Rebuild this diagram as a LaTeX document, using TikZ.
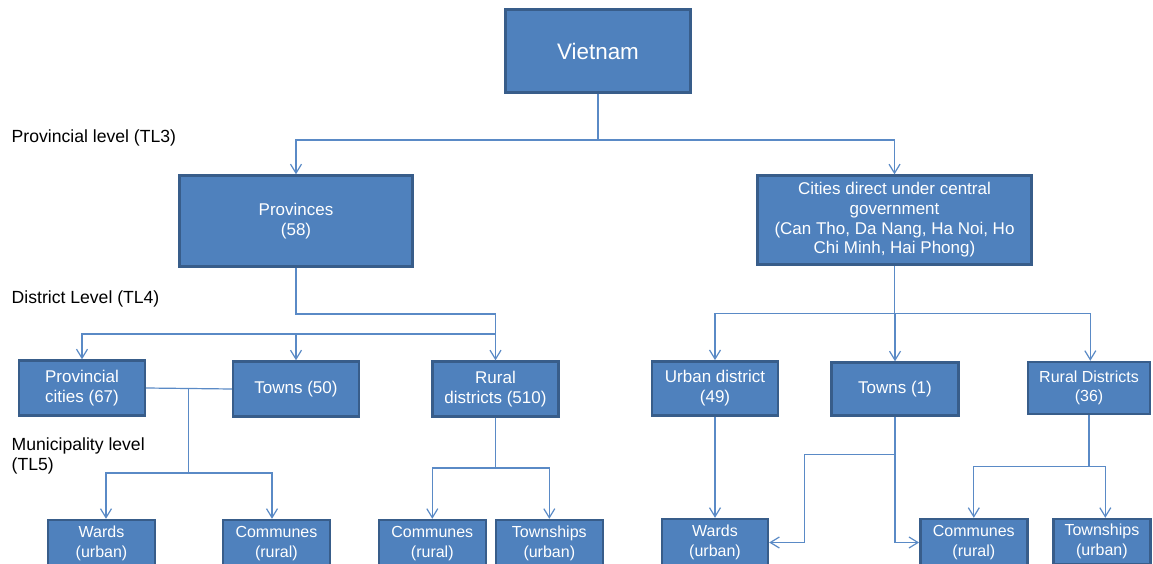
\documentclass[tikz,border=0pt]{standalone}
\usepackage{fontspec}
\setmainfont{Liberation Sans}
\usetikzlibrary{arrows.meta}
\definecolor{boxfill}{HTML}{4F81BD}
\definecolor{boxline}{HTML}{385D8A}
\definecolor{conn}{HTML}{5A8AC6}
\tikzset{
  unit box/.style={draw=boxline, line width=2.4pt, fill=boxfill, text=white,
    inner sep=0pt, align=center, font=\fontsize{17}{20}\selectfont},
  small box/.style={unit box, font=\fontsize{16}{19.4}\selectfont},
  link/.style={draw=conn, line width=1.2pt},
  arrowlink/.style={link, -{Straight Barb[length=9pt,width=11pt,line width=1.2pt]}},
  level label/.style={anchor=west, inner sep=0pt, align=left,
    font=\fontsize{17.6}{20}\selectfont}
}
\begin{document}
\begin{tikzpicture}[x=1pt,y=-1pt]
\useasboundingbox (0,0) rectangle (1153,564);
\clip (0,0) rectangle (1153,564);
\fill[white] (0,0) rectangle (1153,564);

% level labels
\node[level label] (l3) at (11.5,138) {Provincial level (TL3)};
\node[level label] (l4) at (11.5,299) {District Level (TL4)};
\node[level label] (l5) at (11.5,456) {Municipality level\\(TL5)};

% top
\node[unit box, minimum width=185pt, minimum height=83pt,
  font=\fontsize{22.4}{26}\selectfont] (viet) at (598,51) {Vietnam};

% provincial level
\node[unit box, minimum width=233pt, minimum height=91pt] (prov) at (296,221) {Provinces\\(58)};
\node[unit box, minimum width=274pt, minimum height=89pt,
  font=\fontsize{17}{19.7}\selectfont] (cities) at (894.5,220)
  {Cities direct under central\\government\\(Can Tho, Da Nang, Ha Noi, Ho\\Chi Minh, Hai Phong)};

% district level
\node[unit box, minimum width=126pt, minimum height=55pt] (pcity) at (82,388) {Provincial\\cities (67)};
\node[unit box, minimum width=126pt, minimum height=55pt] (towns50) at (296,389) {Towns (50)};
\node[unit box, minimum width=126pt, minimum height=55pt] (rural) at (495.5,389) {Rural\\districts (510)};
\node[unit box, minimum width=126pt, minimum height=54pt] (urban) at (715,388.3) {Urban district\\(49)};
\node[unit box, minimum width=127pt, minimum height=53pt] (towns1) at (895,389) {Towns (1)};
\node[unit box, minimum width=122pt, minimum height=52pt,
  font=\fontsize{16}{19.4}\selectfont] (ruralD) at (1089,388) {Rural Districts\\(36)};

% municipality level
\node[small box, minimum width=107pt, minimum height=47pt] (wards1) at (101.5,543.5) {Wards\\(urban)};
\node[small box, minimum width=107pt, minimum height=47pt] (comm1) at (276.4,543.5) {Communes\\(rural)};
\node[small box, minimum width=107pt, minimum height=47pt] (comm2) at (432.3,543.5) {Communes\\(rural)};
\node[small box, minimum width=107pt, minimum height=47pt] (town1) at (549.3,543.5) {Townships\\(urban)};
\node[small box, minimum width=106pt, minimum height=47pt] (wards2) at (715,542.5) {Wards\\(urban)};
\node[small box, minimum width=107pt, minimum height=47pt] (comm3) at (973.8,542.5) {Communes\\(rural)};
\node[small box, minimum width=97pt, minimum height=45pt] (town2) at (1101.9,541.5) {Townships\\(urban)};

% junctions
\coordinate (j1) at (598,140);
\coordinate (j2) at (296,314);
\coordinate (j3) at (495.6,334);
\coordinate (j4) at (188.7,388.5);
\coordinate (j5) at (188.7,473);
\coordinate (j6) at (495.5,468);
\coordinate (j7) at (894.5,313.5);
\coordinate (j8) at (895,454.3);
\coordinate (j9) at (804.6,454.3);
\coordinate (j10) at (1089,466.7);

% Vietnam -> provincial level
\draw[link] (viet.south) -- (j1);
\draw[arrowlink] (j1) -| (prov.north);
\draw[arrowlink] (j1) -| (cities.north);

% Provinces -> districts
\draw[arrowlink] (prov.south) -- (j2) -| (rural.north);
\draw[arrowlink] (j3) -| (pcity.north);
\draw[arrowlink] (j3 -| towns50) -- (towns50.north);

% provincial cities / towns -> wards, communes
\draw[link] (pcity.east) -- (towns50.west);
\draw[link] (j4) -- (j5);
\draw[arrowlink] (j5) -| ([xshift=4.5pt]wards1.north);
\draw[arrowlink] (j5) -| ([xshift=-4.4pt]comm1.north);

% rural districts -> communes, townships
\draw[link] (rural.south) -- (j6);
\draw[arrowlink] (j6) -| (comm2.north);
\draw[arrowlink] (j6) -| (town1.north);

% cities -> districts
\draw[link] (cities.south) -- (j7);
\draw[arrowlink] (j7) -| (urban.north);
\draw[arrowlink] (j7) -| (towns1.north);
\draw[arrowlink] (j7) -| ([xshift=1.3pt]ruralD.north);

% urban districts -> wards
\draw[arrowlink] (urban.south) -- (wards2.north);

% towns (1) -> communes, wards
\draw[arrowlink] (towns1.south) |- (comm3.west);
\draw[arrowlink] (j8) -- (j9) |- (wards2.east);

% rural districts (36) -> communes, townships
\draw[link] (ruralD.south) -- (j10);
\draw[arrowlink] (j10) -| (comm3.north);
\draw[arrowlink] (j10) -| ([xshift=3.4pt]town2.north);
\end{tikzpicture}
\end{document}
